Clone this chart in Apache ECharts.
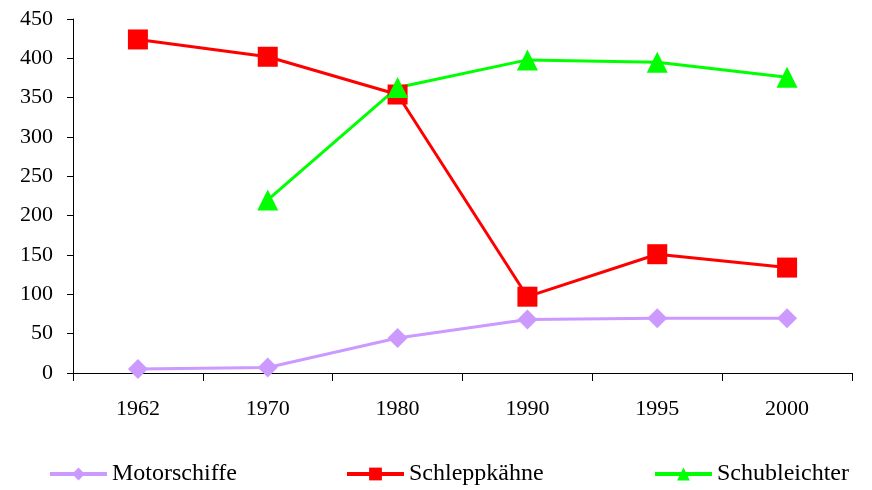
<!DOCTYPE html>
<html>
<head>
<meta charset="utf-8">
<script src="https://cdn.jsdelivr.net/npm/echarts@6/dist/echarts.min.js"></script>
<style>html,body{margin:0;padding:0;background:#fff}#c{width:872px;height:490px}</style>
</head>
<body>
<div id="c"></div>
<script>
var years = ['1962', '1970', '1980', '1990', '1995', '2000'];
var motorschiffe = [5, 7, 44.5, 68, 69.5, 69.5];
var schleppkaehne = [424, 402, 354, 97, 151, 134];
var schubleichter = [null, 220, 363, 398, 395, 376];
var yTicks = [0, 50, 100, 150, 200, 250, 300, 350, 400, 450];

var FONT = '"Liberation Serif", "Times New Roman", serif';
var chart = echarts.init(document.getElementById('c'), null, {renderer: 'canvas'});

function legend(name, left) {
  return {
    data: [name], left: left, top: 462, padding: 0, itemWidth: 57, itemHeight: 16, itemGap: 5,
    lineStyle: {width: 4},
    textStyle: {fontFamily: FONT, fontSize: 24, color: '#000', padding: [0, 0, 0, 0]}
  };
}

chart.setOption({
  animation: false,
  backgroundColor: '#fff',
  grid: {left: 73, right: 20, top: 19, bottom: 117, containLabel: false},
  legend: [legend('Motorschiffe', 48), legend('Schleppkähne', 345), legend('Schubleichter', 653)],
  xAxis: {
    type: 'category', data: years, boundaryGap: true,
    axisLine: {lineStyle: {color: '#000', width: 1}},
    axisTick: {show: true, length: 8, lineStyle: {color: '#000'}},
    axisLabel: {fontFamily: FONT, fontSize: 22, color: '#000', margin: 25},
    splitLine: {show: false}
  },
  yAxis: {
    type: 'value', min: yTicks[0], max: yTicks[yTicks.length - 1], interval: 50,
    axisLine: {show: true, lineStyle: {color: '#000', width: 1}},
    axisTick: {show: true, length: 6, lineStyle: {color: '#000'}},
    axisLabel: {fontFamily: FONT, fontSize: 22, color: '#000', margin: 20},
    splitLine: {show: false}
  },
  series: [
    {name: 'Motorschiffe', type: 'line', data: motorschiffe, symbol: 'diamond', symbolSize: 20,
     itemStyle: {color: '#CC99FF'}, lineStyle: {color: '#CC99FF', width: 3}},
    {name: 'Schleppkähne', type: 'line', data: schleppkaehne, symbol: 'rect', symbolSize: 20,
     itemStyle: {color: '#FF0000'}, lineStyle: {color: '#FF0000', width: 3}},
    {name: 'Schubleichter', type: 'line', data: schubleichter, symbol: 'triangle', symbolSize: 21,
     itemStyle: {color: '#00FF00'}, lineStyle: {color: '#00FF00', width: 3}}
  ]
});
</script>
</body>
</html>
